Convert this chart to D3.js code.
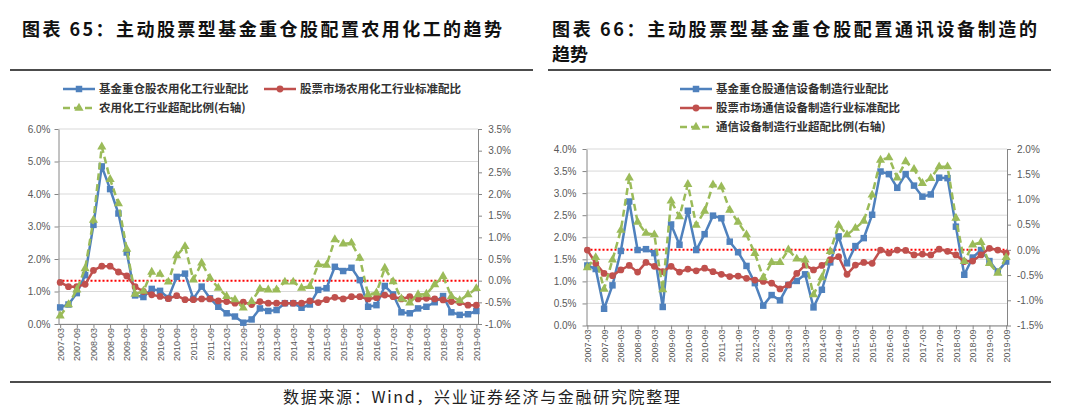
<!DOCTYPE html>
<html>
<head>
<meta charset="utf-8">
<script src="https://cdn.jsdelivr.net/npm/d3@7"></script>
<style>
body { margin: 0; background: #fff; }
svg text { font-family: "Liberation Sans", Arial, sans-serif; }
.cjk { font-family: "Noto Sans CJK SC", sans-serif; }
</style>
</head>
<body>
<svg id="page" width="1080" height="419"></svg>
<script>
// quarterly categories
const quarters = [
  "2007-03","2007-06","2007-09","2007-12","2008-03","2008-06","2008-09","2008-12",
  "2009-03","2009-06","2009-09","2009-12","2010-03","2010-06","2010-09","2010-12",
  "2011-03","2011-06","2011-09","2011-12","2012-03","2012-06","2012-09","2012-12",
  "2013-03","2013-06","2013-09","2013-12","2014-03","2014-06","2014-09","2014-12",
  "2015-03","2015-06","2015-09","2015-12","2016-03","2016-06","2016-09","2016-12",
  "2017-03","2017-06","2017-09","2017-12","2018-03","2018-06","2018-09","2018-12",
  "2019-03","2019-06","2019-09"
];
// labelled ticks (every half year)
const tickLabels = [
  "2007-03","2007-09","2008-03","2008-09","2009-03","2009-09","2010-03","2010-09",
  "2011-03","2011-09","2012-03","2012-09","2013-03","2013-09","2014-03","2014-09",
  "2015-03","2015-09","2016-03","2016-09","2017-03","2017-09","2018-03","2018-09",
  "2019-03","2019-09"
];

// chart 65: agricultural chemicals (%)
const agriFund = [0.51,0.60,0.95,1.50,3.05,4.85,4.15,3.40,2.20,0.88,0.83,1.08,1.02,0.80,1.45,1.55,0.78,1.15,0.79,0.53,
  0.33,0.23,0.04,0.14,0.48,0.40,0.43,0.64,0.64,0.50,0.60,1.05,1.10,1.76,1.63,1.73,1.35,0.53,0.58,1.17,
  0.91,0.36,0.33,0.48,0.53,0.67,0.86,0.36,0.28,0.30,0.40];
const agriMarket = [1.28,1.15,1.15,1.22,1.65,1.78,1.78,1.60,1.48,1.15,1.00,0.90,0.85,0.78,0.87,0.75,0.75,0.77,0.77,0.71,
  0.69,0.64,0.67,0.60,0.69,0.64,0.64,0.64,0.64,0.64,0.71,0.66,0.75,0.82,0.77,0.84,0.84,0.77,0.81,0.89,
  0.84,0.77,0.84,0.77,0.79,0.77,0.74,0.69,0.66,0.58,0.58];
const agriOver = [-0.81,-0.55,-0.21,0.28,1.40,3.09,2.34,1.78,0.73,-0.31,-0.24,0.20,0.15,-0.03,0.58,0.79,0.02,0.41,0.06,-0.17,
  -0.36,-0.44,-0.63,-0.48,-0.19,-0.21,-0.21,-0.03,-0.03,-0.17,-0.13,0.37,0.36,0.95,0.85,0.87,0.52,-0.32,-0.28,0.29,
  -0.02,-0.42,-0.51,-0.32,-0.31,-0.09,0.10,-0.36,-0.46,-0.32,-0.18];
const agriLeftTicks = [0, 1, 2, 3, 4, 5, 6];
const agriRightTicks = [-1.0, -0.5, 0, 0.5, 1.0, 1.5, 2.0, 2.5, 3.0, 3.5];

// chart 66: telecom equipment (%)
const telFund = [1.36,1.28,0.38,0.91,1.69,2.81,1.71,1.73,1.64,0.42,2.29,1.83,2.60,1.71,2.07,2.49,2.43,1.90,1.66,1.35,
  0.96,0.45,0.69,0.57,0.92,1.01,1.16,0.41,0.81,1.43,2.02,1.41,1.80,1.98,2.51,3.49,3.43,3.12,3.43,3.17,
  2.92,2.97,3.35,3.34,2.24,1.15,1.54,1.71,1.46,1.22,1.45];
const telMarket = [1.71,1.41,1.18,1.13,1.26,1.36,1.21,1.43,1.34,1.22,1.34,1.21,1.28,1.24,1.30,1.22,1.16,1.11,1.12,1.07,
  1.03,1.00,0.96,0.83,0.92,1.18,1.37,1.26,1.36,1.49,1.56,1.16,1.37,1.43,1.41,1.71,1.64,1.71,1.70,1.60,
  1.62,1.60,1.73,1.68,1.60,1.45,1.46,1.60,1.75,1.71,1.64];
const telOver = [-0.35,-0.15,-0.78,-0.20,0.39,1.43,0.55,0.33,0.30,-0.79,0.97,0.66,1.30,0.49,0.77,1.29,1.25,0.79,0.55,0.30,
  -0.07,-0.55,-0.25,-0.25,0.00,-0.18,-0.20,-0.89,-0.55,-0.03,0.49,0.30,0.43,0.57,1.09,1.78,1.83,1.43,1.75,1.60,
  1.32,1.42,1.65,1.65,0.63,-0.23,0.10,0.15,-0.27,-0.46,-0.15];
const telLeftTicks = [0, 0.5, 1.0, 1.5, 2.0, 2.5, 3.0, 3.5, 4.0];
const telRightTicks = [-1.5, -1.0, -0.5, 0, 0.5, 1.0, 1.5, 2.0];

const agriNames = ["基金重仓股农用化工行业配比", "股票市场农用化工行业标准配比", "农用化工行业超配比例(右轴)"];
const telNames = ["基金重仓股通信设备制造行业配比", "股票市场通信设备制造行业标准配比", "通信设备制造行业超配比例(右轴)"];

const BLUE = "#4f81bd", RED = "#c0504d", GREEN = "#9bbb59";
const AXIS = "#868686", LABEL = "#595959";

const svg = d3.select("#page");

// headers
svg.append("text").attr("class", "cjk").attr("x", 22).attr("y", 36)
  .attr("font-size", 18).attr("font-weight", "bold").attr("fill", "#111")
  .attr("textLength", 480).attr("lengthAdjust", "spacing")
  .text("图表 65：主动股票型基金重仓股配置农用化工的趋势");
svg.append("text").attr("class", "cjk").attr("x", 552).attr("y", 36)
  .attr("font-size", 18).attr("font-weight", "bold").attr("fill", "#111")
  .attr("textLength", 485).attr("lengthAdjust", "spacing")
  .text("图表 66：主动股票型基金重仓股配置通讯设备制造的");
svg.append("text").attr("class", "cjk").attr("x", 552).attr("y", 61)
  .attr("font-size", 18).attr("font-weight", "bold").attr("fill", "#111")
  .text("趋势");

svg.append("line").attr("x1", 10).attr("x2", 533).attr("y1", 70).attr("y2", 70)
  .attr("stroke", "#111").attr("stroke-width", 1.5);
svg.append("line").attr("x1", 548).attr("x2", 1051).attr("y1", 70).attr("y2", 70)
  .attr("stroke", "#111").attr("stroke-width", 1.5);
svg.append("line").attr("x1", 10).attr("x2", 1051).attr("y1", 382).attr("y2", 382)
  .attr("stroke", "#111").attr("stroke-width", 1.5);

svg.append("text").attr("class", "cjk").attr("x", 283).attr("y", 403)
  .attr("font-size", 16).attr("fill", "#222")
  .attr("textLength", 397).attr("lengthAdjust", "spacing")
  .text("数据来源：Wind，兴业证券经济与金融研究院整理");

function styleAxis(g) {
  g.select(".domain").attr("stroke", AXIS).attr("stroke-width", 1);
  g.selectAll(".tick line").attr("stroke", AXIS);
  g.selectAll(".tick text").attr("fill", LABEL).attr("font-size", 10)
    .attr("font-family", "'Liberation Sans', Arial, sans-serif");
}

function drawChart(c) {
  const g = svg.append("g");

  const x = d3.scalePoint().domain(quarters).range([c.left, c.right]).padding(c.pad);
  const yL = d3.scaleLinear().domain(c.leftDomain).range([c.bottom, c.top]);
  const yR = d3.scaleLinear().domain(c.rightDomain).range([c.bottom, c.top]);

  // gridlines
  g.append("g").selectAll("line").data(c.leftTicks).join("line")
    .attr("x1", c.left).attr("x2", c.right)
    .attr("y1", d => yL(d)).attr("y2", d => yL(d))
    .attr("stroke", "#d9d9d9").attr("stroke-width", 1);

  // left axis
  g.append("g").attr("transform", `translate(${c.left},0)`)
    .call(d3.axisLeft(yL).tickValues(c.leftTicks).tickFormat(d => d.toFixed(1) + "%")
      .tickSize(4).tickSizeOuter(0).tickPadding(c.leftPad))
    .call(styleAxis);

  // right axis
  const gr = g.append("g").attr("transform", `translate(${c.right},0)`)
    .call(d3.axisRight(yR).tickValues(c.rightTicks).tickFormat(d => d.toFixed(1) + "%")
      .tickSize(4).tickSizeOuter(0).tickPadding(6))
    .call(styleAxis);
  if (c.rightAlignEnd) {
    gr.selectAll(".tick text").attr("text-anchor", "end").attr("x", c.rightLabelEnd - c.right);
  }

  // bottom axis
  const gx = g.append("g").attr("transform", `translate(0,${c.bottom})`)
    .call(d3.axisBottom(x).tickValues(tickLabels).tickSize(4).tickSizeOuter(0))
    .call(styleAxis);
  gx.select(".domain").attr("d", `M${c.left},0.5H${c.right}`);
  gx.selectAll(".tick text")
    .attr("transform", "rotate(-90)")
    .attr("text-anchor", "end")
    .attr("x", -4).attr("y", 0).attr("dy", "0.35em")
    .attr("font-size", 9);

  // reference line at right-axis zero
  g.append("line")
    .attr("x1", c.left).attr("x2", c.right)
    .attr("y1", yR(0)).attr("y2", yR(0))
    .attr("stroke", "#ff0000").attr("stroke-width", 2).attr("stroke-dasharray", "2,2");

  const series = [
    { values: c.fund, y: yL, color: BLUE, dash: null, sym: d3.symbolSquare, size: 42 },
    { values: c.market, y: yL, color: RED, dash: null, sym: d3.symbolCircle, size: 36 },
    { values: c.over, y: yR, color: GREEN, dash: "7,4", sym: d3.symbolTriangle, size: 36 }
  ];

  series.forEach(function(s) {
    const line = d3.line().x((d, i) => x(quarters[i])).y(d => s.y(d));
    g.append("path").datum(s.values)
      .attr("d", line).attr("fill", "none")
      .attr("stroke", s.color).attr("stroke-width", 2.5)
      .attr("stroke-dasharray", s.dash)
      .attr("stroke-linejoin", "round");
    g.append("g").selectAll("path").data(s.values).join("path")
      .attr("transform", (d, i) => `translate(${x(quarters[i])},${s.y(d)})`)
      .attr("d", d3.symbol().type(s.sym).size(s.size))
      .attr("fill", s.color);
  });

  // legend
  c.legend.forEach(function(pos, i) {
    const s = series[i];
    const lg = g.append("g").attr("transform", `translate(${pos[0]},${pos[1]})`);
    lg.append("line").attr("x1", 0).attr("x2", 32).attr("y1", 0).attr("y2", 0)
      .attr("stroke", s.color).attr("stroke-width", 2.5).attr("stroke-dasharray", s.dash);
    lg.append("path").attr("transform", "translate(16,0)")
      .attr("d", d3.symbol().type(s.sym).size(s.size)).attr("fill", s.color);
    lg.append("text").attr("class", "cjk").attr("x", 36).attr("y", 0).attr("dy", "0.35em")
      .attr("font-size", 11.5).attr("font-weight", "bold").attr("fill", "#333")
      .text(c.names[i]);
  });
}

drawChart({
  left: 58.5, right: 478, top: 129, bottom: 324, pad: 0.2,
  leftDomain: [0, 6], rightDomain: [-1.0, 3.5],
  leftTicks: agriLeftTicks, rightTicks: agriRightTicks, leftPad: 4,
  rightAlignEnd: true, rightLabelEnd: 511,
  fund: agriFund, market: agriMarket, over: agriOver,
  names: agriNames,
  legend: [[63, 89], [264, 89], [63, 108]]
});

drawChart({
  left: 586.5, right: 1007, top: 149, bottom: 325.5, pad: 0.1,
  leftDomain: [0, 4], rightDomain: [-1.5, 2.0],
  leftTicks: telLeftTicks, rightTicks: telRightTicks, leftPad: 6,
  rightAlignEnd: false,
  fund: telFund, market: telMarket, over: telOver,
  names: telNames,
  legend: [[680, 89], [680, 108], [680, 127]]
});
</script>
</body>
</html>
